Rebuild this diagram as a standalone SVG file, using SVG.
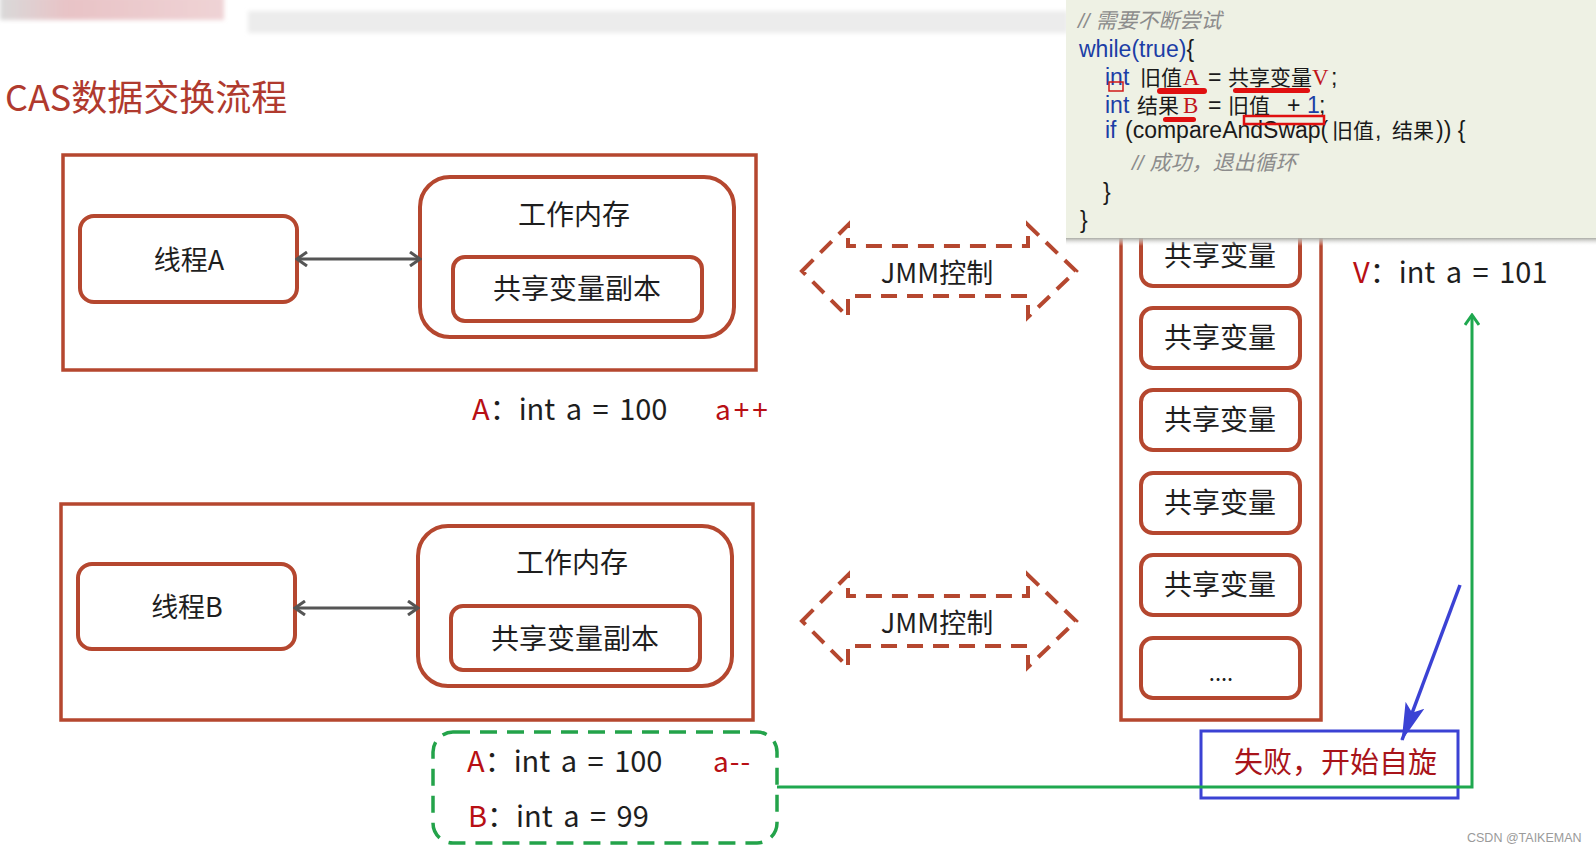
<svg xmlns="http://www.w3.org/2000/svg" width="1596" height="852" viewBox="0 0 1596 852">
<defs>
<style>
.box{fill:none;stroke:#b5472f;stroke-width:3.5}
.node{fill:#fff;stroke:#b5472f;stroke-width:4}
.lbl{font-family:"Noto Sans CJK SC","Liberation Sans",sans-serif;fill:#1e1e1e}
.val{word-spacing:4px}
.jmm{fill:none;stroke:#b5472f;stroke-width:4;stroke-dasharray:16 10}
.red{fill:#b80f14}
.code{font-family:"Liberation Sans","Noto Sans CJK SC",sans-serif;font-size:23px;fill:#1a1a1a}
.cjk{font-family:"Noto Sans CJK SC",sans-serif;font-size:21px;fill:#1a1a1a}
.kw{fill:#1c3ea6}
.cmt{font-family:"Liberation Sans","Noto Sans CJK SC",sans-serif;font-size:21px;font-style:italic;fill:#8c8c8c}
.rv{font-family:"Liberation Serif",serif;font-size:23px;fill:#c0141a}
.ul{fill:#e01010}
</style>
<marker id="gray" viewBox="0 0 14 16" refX="12" refY="8" markerWidth="14" markerHeight="16" markerUnits="userSpaceOnUse" orient="auto-start-reverse">
<path d="M2,1 L12,8 L2,15" fill="none" stroke="#555" stroke-width="3"/>
</marker>
<marker id="green" viewBox="0 0 14 16" refX="12" refY="8" markerWidth="14" markerHeight="16" markerUnits="userSpaceOnUse" orient="auto">
<path d="M2,1 L12,8 L2,15" fill="none" stroke="#1fa84f" stroke-width="3"/>
</marker>
<marker id="blue" viewBox="0 0 38 22" refX="37" refY="11" markerWidth="38" markerHeight="22" markerUnits="userSpaceOnUse" orient="auto">
<path d="M0,1 L38,11 L0,21 L8,11 Z" fill="#3b42d4"/>
</marker>
<linearGradient id="pink" x1="0" x2="1" y1="0" y2="0">
<stop offset="0" stop-color="#d9d9d9"/>
<stop offset="0.3" stop-color="#e8c3c6"/>
<stop offset="1" stop-color="#efd3d5"/>
</linearGradient>
<linearGradient id="shadow" x1="0" x2="0" y1="0" y2="1">
<stop offset="0" stop-color="#a9aaa4"/>
<stop offset="1" stop-color="#ffffff" stop-opacity="0"/>
</linearGradient>
<filter id="blur" x="-5%" y="-50%" width="110%" height="200%"><feGaussianBlur stdDeviation="2"/></filter>
</defs>
<rect width="1596" height="852" fill="#ffffff"/>
<!-- top screenshot artifacts -->
<rect x="0" y="-4" width="224" height="24" fill="url(#pink)" filter="url(#blur)"/>
<rect x="248" y="11" width="820" height="22" fill="#ececec" filter="url(#blur)"/>
<text x="5" y="111" font-family="Noto Sans CJK SC,sans-serif" font-size="36" fill="#b03a2e">CAS数据交换流程</text>

<g id="threadA-group">
<rect class="box" x="63" y="155" width="693" height="215"/>
</g>
<g id="threadA">
<rect class="node" x="80" y="216" width="217" height="86" rx="14"/>
<text class="lbl" x="189" y="270" font-size="27" text-anchor="middle">线程A</text>
</g>
<g id="workmemA">
<rect class="node" x="420" y="177" width="314" height="160" rx="30"/>
<text class="lbl" x="574" y="225" font-size="28" text-anchor="middle">工作内存</text>
</g>
<g id="copyA">
<rect class="node" x="453" y="257" width="249" height="64" rx="12"/>
<text class="lbl" x="577" y="299" font-size="28" text-anchor="middle">共享变量副本</text>
</g>

<g id="threadB-group">
<rect class="box" x="61" y="504" width="692" height="216"/>
</g>
<g id="threadB">
<rect class="node" x="78" y="564" width="217" height="85" rx="14"/>
<text class="lbl" x="187" y="617" font-size="27" text-anchor="middle">线程B</text>
</g>
<g id="workmemB">
<rect class="node" x="418" y="526" width="314" height="160" rx="30"/>
<text class="lbl" x="572" y="573" font-size="28" text-anchor="middle">工作内存</text>
</g>
<g id="copyB">
<rect class="node" x="451" y="606" width="249" height="64" rx="12"/>
<text class="lbl" x="575" y="649" font-size="28" text-anchor="middle">共享变量副本</text>
</g>

<g id="labelA">
<text class="lbl val" x="472" y="420" font-size="29"><tspan class="red">A</tspan>：int a = 100</text>
<text class="lbl red" x="715" y="420" font-size="28" letter-spacing="3">a++</text>
</g>

<g id="jmm1">
<path class="jmm" d="M802,271 L848,225 L848,246 L1028,246 L1028,225 L1076,271 L1028,317 L1028,296 L848,296 L848,317 Z"/>
<text class="lbl" x="937" y="283" font-size="27" text-anchor="middle">JMM控制</text>
</g>
<g id="jmm2">
<path class="jmm" d="M802,621 L848,575 L848,596 L1028,596 L1028,575 L1076,621 L1028,667 L1028,646 L848,646 L848,667 Z"/>
<text class="lbl" x="937" y="633" font-size="27" text-anchor="middle">JMM控制</text>
</g>

<g id="mainmem">
<rect class="box" x="1121" y="190" width="200" height="530"/>
</g>
<g id="var1"><rect class="node" x="1141" y="226" width="159" height="60" rx="12"/><text class="lbl" x="1220" y="266" font-size="28" text-anchor="middle">共享变量</text></g>
<g id="var2"><rect class="node" x="1141" y="308" width="159" height="60" rx="12"/><text class="lbl" x="1220" y="348" font-size="28" text-anchor="middle">共享变量</text></g>
<g id="var3"><rect class="node" x="1141" y="390" width="159" height="60" rx="12"/><text class="lbl" x="1220" y="430" font-size="28" text-anchor="middle">共享变量</text></g>
<g id="var4"><rect class="node" x="1141" y="473" width="159" height="60" rx="12"/><text class="lbl" x="1220" y="513" font-size="28" text-anchor="middle">共享变量</text></g>
<g id="var5"><rect class="node" x="1141" y="555" width="159" height="60" rx="12"/><text class="lbl" x="1220" y="595" font-size="28" text-anchor="middle">共享变量</text></g>
<g id="var6"><rect class="node" x="1141" y="638" width="159" height="60" rx="12"/><text class="lbl" x="1221" y="681" font-size="22" text-anchor="middle">....</text></g>

<g id="labelV">
<text class="lbl val" x="1353" y="283" font-size="29"><tspan class="red">V</tspan>：int a = 101</text>
</g>

<g id="labelAB">
<rect x="433" y="732" width="344" height="111" rx="20" fill="none" stroke="#23a34a" stroke-width="3.5" stroke-dasharray="17 10"/>
<text class="lbl val" x="467" y="772" font-size="29"><tspan class="red">A</tspan>：int a = 100</text>
<text class="lbl red" x="713" y="772" font-size="28" letter-spacing="1">a--</text>
<text class="lbl val" x="468" y="827" font-size="29"><tspan class="red">B</tspan>：int a = 99</text>
</g>

<g id="fail">
<rect x="1201" y="731" width="257" height="67" fill="none" stroke="#3b42d4" stroke-width="3"/>
<text x="1234" y="773" font-family="Noto Sans CJK SC,sans-serif" font-size="29" fill="#a8141a">失败，开始自旋</text>
</g>

<g id="connectors">
<line x1="297" y1="259" x2="420" y2="259" stroke="#555" stroke-width="3" marker-start="url(#gray)" marker-end="url(#gray)"/>
<line x1="295" y1="608" x2="418" y2="608" stroke="#555" stroke-width="3" marker-start="url(#gray)" marker-end="url(#gray)"/>
<polyline points="777,787 1472,787 1472,315" fill="none" stroke="#1fa84f" stroke-width="3" marker-end="url(#green)"/>
<line x1="1460" y1="585" x2="1402" y2="740" stroke="#3b42d4" stroke-width="3.5" marker-end="url(#blue)"/>
</g>

<g id="code-popup">
<rect x="1066" y="238" width="530" height="8" fill="url(#shadow)"/>
<rect x="1066" y="-5" width="535" height="243" fill="#eef1e4"/>
<text class="cmt" x="1078" y="28">// 需要不断尝试</text>
<text class="code kw" x="1079" y="57">while(true)<tspan fill="#1a1a1a">{</tspan></text>
<text class="code kw" x="1105" y="85">int</text>
<text class="cjk" x="1140" y="85">旧值</text>
<text class="rv" x="1183" y="85">A</text>
<text class="code" x="1208" y="85">=</text>
<text class="cjk" x="1228" y="85">共享变量</text>
<text class="rv" x="1312" y="85">V</text>
<text class="code" x="1331" y="85">;</text>
<text class="code kw" x="1105" y="113">int</text>
<text class="cjk" x="1137" y="113">结果</text>
<text class="rv" x="1183" y="113">B</text>
<text class="code" x="1208" y="113">=</text>
<text class="cjk" x="1228" y="113">旧值</text>
<text class="code" x="1287" y="113">+</text>
<text class="code kw" x="1307" y="113">1</text>
<text class="code" x="1319" y="113">;</text>
<text class="code kw" x="1105" y="138">if</text>
<text class="code" x="1125" y="138">(compareAndSwap(</text>
<text class="cjk" x="1332" y="138">旧值</text>
<text class="code" x="1375" y="138">,</text>
<text class="cjk" x="1392" y="138">结果</text>
<text class="code" x="1436" y="138">)) {</text>
<text class="cmt" x="1132" y="170">// 成功，退出循环</text>
<text class="code" x="1103" y="200">}</text>
<text class="code" x="1080" y="228">}</text>
<rect class="ul" x="1157" y="88" width="50" height="6" rx="3"/>
<rect class="ul" x="1233" y="88" width="77" height="5" rx="2.5"/>
<rect class="ul" x="1163" y="117" width="33" height="5" rx="2.5"/>
<rect x="1244" y="116" width="80" height="8" fill="none" stroke="#e01010" stroke-width="2.5"/>
<rect x="1109" y="82" width="14" height="9" fill="none" stroke="#d01818" stroke-width="1.5"/>
</g>

<text x="1467" y="842" font-family="Liberation Sans,sans-serif" font-size="12.5" fill="#9a9a9a">CSDN @TAIKEMAN</text>
</svg>
